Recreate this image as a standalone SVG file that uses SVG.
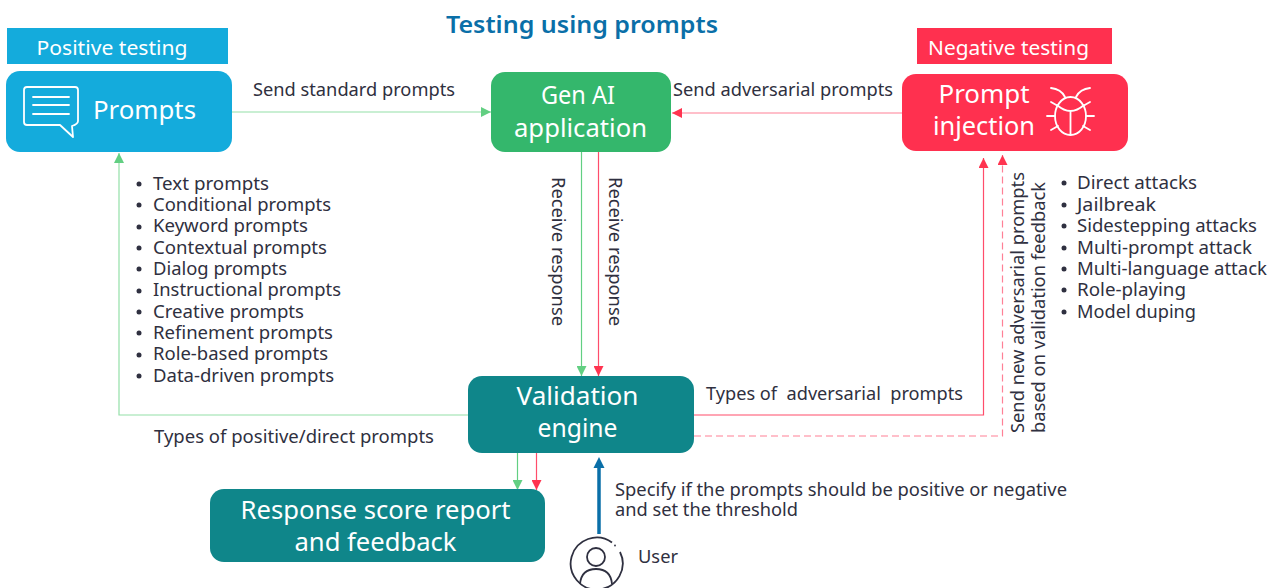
<svg xmlns="http://www.w3.org/2000/svg" width="1287" height="588" viewBox="0 0 1287 588">
<style>
text{font-family:"Noto Sans","Open Sans","Liberation Sans",sans-serif;fill:#2f3040}
.w{fill:#fff;text-anchor:middle}
.b{font-size:26px}
.t{font-size:17.5px}
.g{stroke:#93e0a8;stroke-width:1.2;fill:none}
.gd{stroke:#62cf82;stroke-width:1.2;fill:none}
.r{stroke:#ff8096;stroke-width:1.2;fill:none}
.rd{stroke:#ff4d6b;stroke-width:1.2;fill:none}
.ic{stroke:#fff;stroke-width:1.8;fill:none;stroke-linecap:round;stroke-linejoin:round}
.u{stroke:#2f3040;stroke-width:1.8;fill:none}
</style>
<defs>
<marker id="ag" markerUnits="userSpaceOnUse" markerWidth="11" markerHeight="10" refX="10" refY="5" orient="auto"><path d="M0 0L10 5L0 10Z" fill="#62cf82"/></marker>
<marker id="ar" markerUnits="userSpaceOnUse" markerWidth="11" markerHeight="10" refX="10" refY="5" orient="auto"><path d="M0 0L10 5L0 10Z" fill="#ff3450"/></marker>
</defs>
<rect width="1287" height="588" fill="#fff"/>
<text x="582" y="33" text-anchor="middle" style="font-size:24px;font-weight:600;fill:#0a6fa8" textLength="272" lengthAdjust="spacingAndGlyphs">Testing using prompts</text>

<g id="connectors">
<path class="g" d="M232 112H491" marker-end="url(#ag)"/>
<path class="r" d="M902 113H672" marker-end="url(#ar)"/>
<path class="gd" d="M581.500 152V376" marker-end="url(#ag)"/>
<path class="rd" d="M598.500 152V376" marker-end="url(#ar)"/>
<path class="g" d="M468 415H119V153" marker-end="url(#ag)"/>
<path class="rd" d="M694 415H983.500V158" marker-end="url(#ar)"/>
<path class="r" stroke-dasharray="7 4" d="M694 436H1002.500V155" marker-end="url(#ar)"/>
<path class="gd" d="M517.500 453V490" marker-end="url(#ag)"/>
<path class="rd" d="M536.500 453V490" marker-end="url(#ar)"/>
<path d="M599 534V467" stroke="#0a6fa8" stroke-width="3.500" fill="none"/>
<path d="M593.500 468L599 457L604.500 468Z" fill="#0a6fa8"/>
</g>

<g id="positive-label"><rect x="7" y="28" width="221" height="36" fill="#14abdc"/><text class="w" x="112" y="55" style="font-size:20px" textLength="151" lengthAdjust="spacingAndGlyphs">Positive testing</text></g>
<g id="negative-label"><rect x="917" y="28" width="195" height="36" fill="#ff304f"/><text class="w" x="1008.500" y="55" style="font-size:20px" textLength="161" lengthAdjust="spacingAndGlyphs">Negative testing</text></g>

<g id="prompts"><rect x="6" y="71" width="226" height="81" rx="14" fill="#14abdc"/>
<path class="ic" d="M27 87H75Q78 87 78 90V121Q78 124 72 126L73 137L60 125H27Q24 125 24 122V90Q24 87 27 87Z"/>
<path class="ic" d="M33 97H69M33 105H69M33 114H69"/>
<text class="w b" x="144.500" y="119" textLength="103" lengthAdjust="spacingAndGlyphs">Prompts</text></g>

<g id="gen-ai"><rect x="491" y="72" width="180" height="80" rx="14" fill="#34b76c"/>
<text class="w b" x="578" y="104" textLength="74" lengthAdjust="spacingAndGlyphs">Gen AI</text>
<text class="w b" x="580.500" y="137" textLength="133" lengthAdjust="spacingAndGlyphs">application</text></g>

<g id="prompt-injection"><rect x="902" y="74" width="226" height="77" rx="14" fill="#ff304f"/>
<text class="w b" x="984" y="103" textLength="91" lengthAdjust="spacingAndGlyphs">Prompt</text>
<text class="w b" x="984" y="135" textLength="102" lengthAdjust="spacingAndGlyphs">injection</text>
<path class="ic" d="M1070.500 97C1080 97 1086 107 1086 116C1086 127 1079 135 1070.500 135C1062 135 1055 127 1055 116C1055 107 1061 97 1070.500 97Z"/>
<path class="ic" d="M1057 105Q1070.500 117 1084 105M1070.500 111V135"/>
<path class="ic" d="M1051 88Q1061 89 1065 97M1090 88Q1080 89 1076 97M1051 102L1058 106M1090 102L1083 106M1047 116H1055M1094 116H1086M1051 130L1058 126M1090 130L1083 126"/></g>

<g id="validation-engine"><rect x="468" y="376" width="226" height="77" rx="14" fill="#0f868a"/>
<text class="w b" x="577.500" y="405" textLength="122" lengthAdjust="spacingAndGlyphs">Validation</text>
<text class="w b" x="577.500" y="437" textLength="80" lengthAdjust="spacingAndGlyphs">engine</text></g>

<g id="response-report"><rect x="210" y="489" width="335" height="73" rx="14" fill="#0f868a"/>
<text class="w b" x="375.500" y="519" textLength="270" lengthAdjust="spacingAndGlyphs">Response score report</text>
<text class="w b" x="375.500" y="551" textLength="162" lengthAdjust="spacingAndGlyphs">and feedback</text></g>

<g id="user">
<path class="u" d="M612 542.500A26 26 0 1 0 620 552"/>
<circle class="u" cx="596" cy="557" r="9"/>
<path class="u" d="M580 584C581 573 588 569 596 569C604 569 611 573 612 584"/>
<circle cx="615" cy="545.500" r="0.900" fill="#2f3040"/>
<text class="t" x="638" y="563" textLength="40" lengthAdjust="spacingAndGlyphs">User</text></g>

<g id="labels">
<text class="t" x="253" y="96" textLength="202" lengthAdjust="spacingAndGlyphs">Send standard prompts</text>
<text class="t" x="673" y="96" textLength="220" lengthAdjust="spacingAndGlyphs">Send adversarial prompts</text>
<text class="t" transform="translate(552 177) rotate(90)" textLength="149" lengthAdjust="spacingAndGlyphs">Receive response</text>
<text class="t" transform="translate(609 177) rotate(90)" textLength="149" lengthAdjust="spacingAndGlyphs">Receive response</text>
<text class="t" x="706" y="400" style="white-space:pre" textLength="257" lengthAdjust="spacingAndGlyphs">Types of  adversarial  prompts</text>
<text class="t" x="154" y="443" textLength="280" lengthAdjust="spacingAndGlyphs">Types of positive/direct prompts</text>
<text class="t" x="615" y="496" textLength="452" lengthAdjust="spacingAndGlyphs">Specify if the prompts should be positive or negative</text>
<text class="t" x="615" y="516" textLength="183" lengthAdjust="spacingAndGlyphs">and set the threshold</text>
<text class="t" transform="translate(1024 433) rotate(-90)" textLength="261" lengthAdjust="spacingAndGlyphs">Send new adversarial prompts</text>
<text class="t" transform="translate(1045 433) rotate(-90)" textLength="251" lengthAdjust="spacingAndGlyphs">based on validation feedback</text>
</g>

<g id="positive-list">
<g fill="#2f3040"><circle cx="139" cy="184" r="2.500"/><circle cx="139" cy="205" r="2.500"/><circle cx="139" cy="227" r="2.500"/><circle cx="139" cy="248" r="2.500"/><circle cx="139" cy="269" r="2.500"/><circle cx="139" cy="291" r="2.500"/><circle cx="139" cy="312" r="2.500"/><circle cx="139" cy="333" r="2.500"/><circle cx="139" cy="355" r="2.500"/><circle cx="139" cy="376" r="2.500"/></g>
<text class="t" x="153" y="190" textLength="116" lengthAdjust="spacingAndGlyphs">Text prompts</text>
<text class="t" x="153" y="211" textLength="178" lengthAdjust="spacingAndGlyphs">Conditional prompts</text>
<text class="t" x="153" y="232" textLength="155" lengthAdjust="spacingAndGlyphs">Keyword prompts</text>
<text class="t" x="153" y="254" textLength="174" lengthAdjust="spacingAndGlyphs">Contextual prompts</text>
<text class="t" x="153" y="275" textLength="134" lengthAdjust="spacingAndGlyphs">Dialog prompts</text>
<text class="t" x="153" y="296" textLength="188" lengthAdjust="spacingAndGlyphs">Instructional prompts</text>
<text class="t" x="153" y="318" textLength="151" lengthAdjust="spacingAndGlyphs">Creative prompts</text>
<text class="t" x="153" y="339" textLength="180" lengthAdjust="spacingAndGlyphs">Refinement prompts</text>
<text class="t" x="153" y="360" textLength="175" lengthAdjust="spacingAndGlyphs">Role-based prompts</text>
<text class="t" x="153" y="382" textLength="181" lengthAdjust="spacingAndGlyphs">Data-driven prompts</text>
</g>

<g id="negative-list">
<g fill="#2f3040"><circle cx="1064" cy="183" r="2.500"/><circle cx="1064" cy="205" r="2.500"/><circle cx="1064" cy="226" r="2.500"/><circle cx="1064" cy="248" r="2.500"/><circle cx="1064" cy="269" r="2.500"/><circle cx="1064" cy="290" r="2.500"/><circle cx="1064" cy="312" r="2.500"/></g>
<text class="t" x="1077" y="189" textLength="120" lengthAdjust="spacingAndGlyphs">Direct attacks</text>
<text class="t" x="1077" y="211" textLength="79" lengthAdjust="spacingAndGlyphs">Jailbreak</text>
<text class="t" x="1077" y="232" textLength="180" lengthAdjust="spacingAndGlyphs">Sidestepping attacks</text>
<text class="t" x="1077" y="254" textLength="175" lengthAdjust="spacingAndGlyphs">Multi-prompt attack</text>
<text class="t" x="1077" y="275" textLength="190" lengthAdjust="spacingAndGlyphs">Multi-language attack</text>
<text class="t" x="1077" y="296" textLength="109" lengthAdjust="spacingAndGlyphs">Role-playing</text>
<text class="t" x="1077" y="318" textLength="119" lengthAdjust="spacingAndGlyphs">Model duping</text>
</g>
</svg>
